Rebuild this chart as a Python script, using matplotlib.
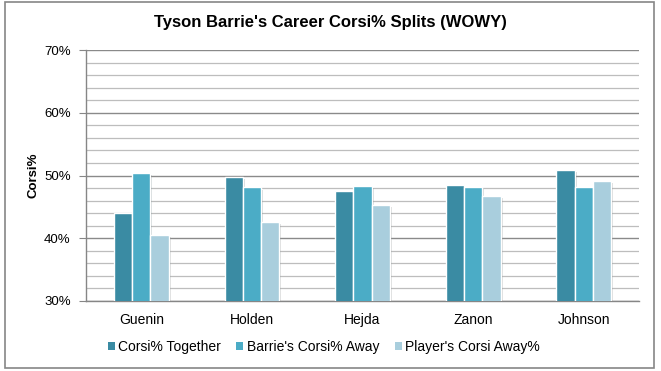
import matplotlib
matplotlib.use('Agg')
import matplotlib.pyplot as plt
import matplotlib.patheffects as pe
from matplotlib.patches import Rectangle
from matplotlib.ticker import MultipleLocator, FuncFormatter
import numpy as np

plt.rcParams['font.family'] = ['Liberation Sans', 'DejaVu Sans']

# data
players = ['Guenin', 'Holden', 'Hejda', 'Zanon', 'Johnson']
together = [44.1, 49.8, 47.6, 48.5, 50.9]
barrie_away = [50.4, 48.1, 48.4, 48.2, 48.2]
player_away = [40.6, 42.6, 45.3, 46.8, 49.2]
series_names = ['Corsi% Together', "Barrie's Corsi% Away", "Player's Corsi Away%"]
colors = ['#3A8BA3', '#4BACC6', '#A9CEDD']

fig = plt.figure(figsize=(6.61, 3.71), dpi=100)
ax = fig.add_axes([0.130, 0.1887, 0.837, 0.6763])

# outer frame of the chart
fig.patches.append(Rectangle((5 / 661, 3 / 371), 649 / 661, 366 / 371,
                             transform=fig.transFigure, fill=False,
                             edgecolor='#868686', linewidth=1.2))

x = np.arange(len(players))
w = 0.165
shadow = [pe.SimplePatchShadow(offset=(1.5, -1.5), alpha=0.18), pe.Normal()]
handles = []
for i, vals in enumerate([together, barrie_away, player_away]):
    bars = ax.bar(x + (i - 1) * w, vals, width=w, bottom=0,
                  color=colors[i], edgecolor='white', linewidth=1.0,
                  label=series_names[i], zorder=3)
    for b in bars:
        b.set_path_effects(shadow)
    handles.append(Rectangle((0, 0), 1, 1, facecolor=colors[i], edgecolor='none'))

ax.set_ylim(30, 70)
ax.set_xlim(-0.5, len(players) - 0.5)
ax.yaxis.set_major_locator(MultipleLocator(10))
ax.yaxis.set_minor_locator(MultipleLocator(2))
ax.yaxis.set_major_formatter(FuncFormatter(lambda v, p: f'{v:.0f}%'))
ax.grid(which='minor', axis='y', color='#BDBDBD', linewidth=0.9, zorder=0)
ax.grid(which='major', axis='y', color='#8A8A8A', linewidth=1.0, zorder=0)
ax.set_axisbelow(True)

ax.set_xticks(x)
ax.set_xticklabels(players, fontsize=10)
ax.tick_params(axis='x', length=0, pad=9)
ax.tick_params(axis='y', which='major', length=5, color='#868686',
               labelsize=9.5, pad=6)
ax.tick_params(axis='y', which='minor', length=0)

for s in ['top', 'right']:
    ax.spines[s].set_visible(False)
for s in ['left', 'bottom']:
    ax.spines[s].set_color('#868686')
    ax.spines[s].set_linewidth(1.0)

ax.set_ylabel('Corsi%', fontsize=9.5, fontweight='bold', labelpad=3)

fig.text(0.5, 1 - 23 / 371, "Tyson Barrie's Career Corsi% Splits (WOWY)",
         ha='center', va='center', fontsize=12, fontweight='bold')

fig.legend(handles, series_names, loc='center',
           bbox_to_anchor=(0.49, 1 - 347 / 371), ncol=3,
           frameon=False, fontsize=10, handlelength=0.5, handleheight=0.5,
           handletextpad=0.25, columnspacing=1.1)

fig.savefig('out.png', dpi=100)
